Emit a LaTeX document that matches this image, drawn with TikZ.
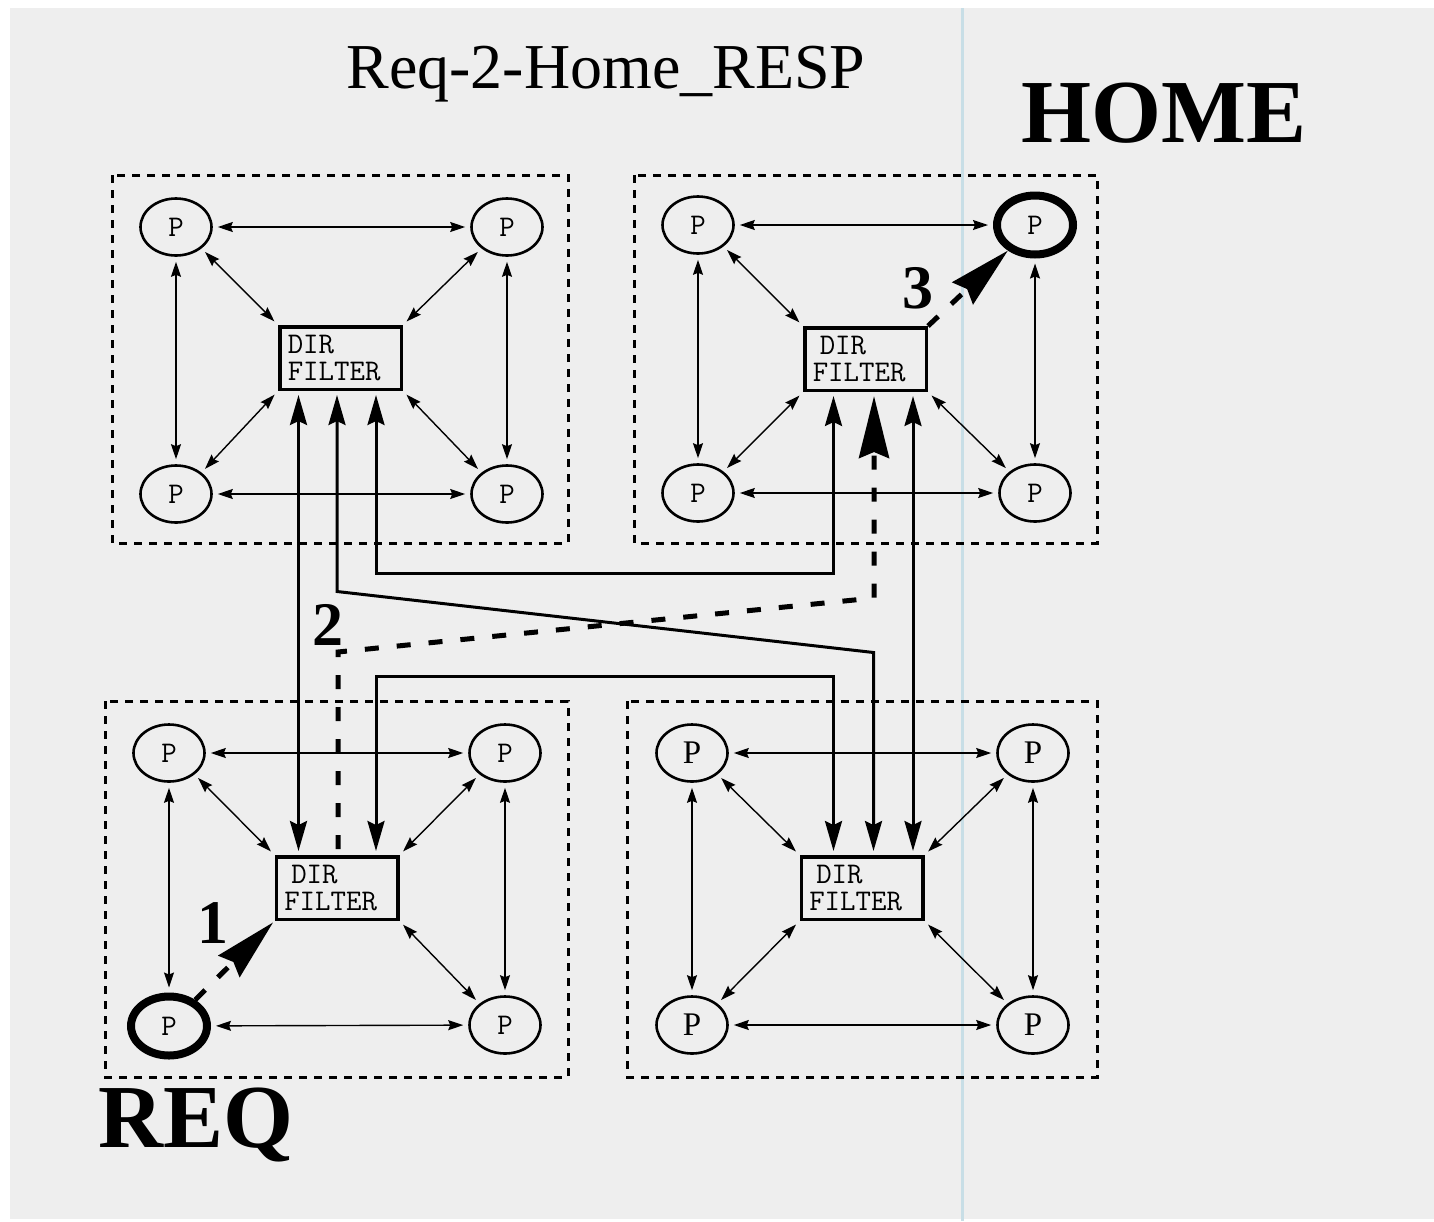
\documentclass[tikz,border=0pt]{standalone}
\usepackage{fontspec}
\newfontfamily\tms{Liberation Serif}
\usetikzlibrary{arrows.meta,shapes.geometric}
\definecolor{bg}{RGB}{238,238,238}
\definecolor{vline}{RGB}{200,222,230}
\begin{document}
\begin{tikzpicture}[x=0.5pt,y=-0.5pt,
  pn/.style={ellipse,draw,line width=1.3pt,minimum width=35.5pt,minimum height=28.5pt,inner sep=0pt,font=\ttfamily\fontsize{15}{15}\selectfont},
  pthick/.style={pn,line width=4pt,minimum width=38pt,minimum height=29.5pt},
  proman/.style={pn,font=\tms\fontsize{16.5}{16.5}\selectfont},
  filt/.style={draw,line width=1.75pt,inner xsep=4pt,inner ysep=0pt,text width=52.75pt,minimum height=31.25pt,align=left,font=\ttfamily\fontsize{15}{13.5}\selectfont},
  grp/.style={draw,line width=1.5pt,dash pattern=on 4pt off 3.5pt},
  thinarr/.style={line width=0.7pt,{Stealth[length=7.5pt,width=5pt,inset=1pt]}-{Stealth[length=7.5pt,width=5pt,inset=1pt]},shorten <=2.5pt,shorten >=2.5pt},
  bus/.style={line width=1.5pt,{Stealth[length=15pt,width=8.5pt,inset=2pt]}-{Stealth[length=15pt,width=8.5pt,inset=2pt]},shorten <=2pt,shorten >=2pt},
  msg/.style={line width=2.5pt,dash pattern=on 7pt off 9pt,-{Stealth[length=31pt,width=15pt,inset=3pt]}},
  lbl/.style={font=\tms\bfseries\fontsize{31}{31}\selectfont,inner sep=0pt,anchor=base},
]
\useasboundingbox (0,0) rectangle (1434,1221);
\fill[white] (0,0) rectangle (1434,1221);
\fill[bg] (10,8) rectangle (1434,1219);
\draw[vline,line width=1.5pt] (962,8) -- (962,1221);

% group frames
\draw[grp] (112,175) rectangle (568,543);
\draw[grp] (634,175) rectangle (1097,543);
\draw[grp] (105,701) rectangle (568,1077);
\draw[grp] (627,701) rectangle (1097,1077);

% top-left group
\node[pn] (a1) at (176,227) {P};
\node[pn] (a2) at (507,227) {P};
\node[pn] (a3) at (176,494) {P};
\node[pn] (a4) at (507,494) {P};
\node[filt] (fa) at (340.5,358) {DIR\\FILTER};

% top-right group (HOME)
\node[pn] (b1) at (698,225) {P};
\node[pthick] (b2) at (1035,225) {P};
\node[pn] (b3) at (698,493) {P};
\node[pn] (b4) at (1035,493) {P};
\node[filt] (fb) at (865.5,359) {\hspace*{3.5pt}DIR\\FILTER};

% bottom-left group (REQ)
\node[pn] (c1) at (169,753) {P};
\node[pn] (c2) at (505,753) {P};
\node[pthick] (c3) at (169,1026) {P};
\node[pn] (c4) at (505,1025) {P};
\node[filt] (fc) at (337,888) {\hspace*{3.5pt}DIR\\FILTER};

% bottom-right group
\node[proman] (d1) at (692,753) {P};
\node[proman] (d2) at (1033,753) {P};
\node[proman] (d3) at (692,1025) {P};
\node[proman] (d4) at (1033,1025) {P};
\node[filt] (fd) at (862,888) {\hspace*{3.5pt}DIR\\FILTER};

% thin arrows
\draw[thinarr] (a1) -- (a2);
\draw[thinarr] (a3) -- (a4);
\draw[thinarr] (a1) -- (a3);
\draw[thinarr] (a2) -- (a4);
\draw[thinarr] (a1.-40) -- (fa.north west);
\draw[thinarr] (a2.-140) -- (fa.north east);
\draw[thinarr] (a3.40) -- (fa.south west);
\draw[thinarr] (a4.140) -- (fa.south east);

\draw[thinarr] (b1) -- (b2);
\draw[thinarr] (b3) -- (b4);
\draw[thinarr] (b1) -- (b3);
\draw[thinarr] (b2) -- (b4);
\draw[thinarr] (b1.-40) -- (fb.north west);
\draw[thinarr] (b3.40) -- (fb.south west);
\draw[thinarr] (b4.140) -- (fb.south east);

\draw[thinarr] (c1) -- (c2);
\draw[thinarr] (c3) -- (c4);
\draw[thinarr] (c1) -- (c3);
\draw[thinarr] (c2) -- (c4);
\draw[thinarr] (c1.-40) -- (fc.north west);
\draw[thinarr] (c2.-140) -- (fc.north east);
\draw[thinarr] (c4.140) -- (fc.south east);

\draw[thinarr] (d1) -- (d2);
\draw[thinarr] (d3) -- (d4);
\draw[thinarr] (d1) -- (d3);
\draw[thinarr] (d2) -- (d4);
\draw[thinarr] (d1.-40) -- (fd.north west);
\draw[thinarr] (d2.-140) -- (fd.north east);
\draw[thinarr] (d3.40) -- (fd.south west);
\draw[thinarr] (d4.140) -- (fd.south east);

% bus coordinates
\coordinate (xA) at (298.5,0);
\coordinate (xB) at (337,0);
\coordinate (xC) at (376,0);
\coordinate (xD) at (833.5,0);
\coordinate (xE) at (873.5,0);
\coordinate (xF) at (913,0);
\coordinate (xG) at (338,0);
\coordinate (xH) at (874,0);
\coordinate (yA) at (0,573.5);
\coordinate (yB) at (0,591.5);
\coordinate (yB2) at (0,652.5);
\coordinate (yC) at (0,676.5);
\coordinate (yD) at (0,652);
\coordinate (yD2) at (0,598);

\draw[bus] (fa.south -| xA) -- (fc.north -| xA);
\draw[bus] (fa.south -| xC) -- (xC |- yA) -- (xD |- yA) -- (fb.south -| xD);
\draw[bus] (fa.south -| xB) -- (xB |- yB) -- (xE |- yB2) -- (fd.north -| xE);
\draw[bus] (fc.north -| xC) -- (xC |- yC) -- (xD |- yC) -- (fd.north -| xD);
\draw[bus] (fb.south -| xF) -- (fd.north -| xF);

% message path
\draw[msg,shorten <=3pt,shorten >=2pt] (fc.north -| xG) -- (xG |- yD) -- (xH |- yD2) -- (fb.south -| xH);
\draw[msg,shorten >=1pt] (c3) -- (fc.south west);
\draw[msg] (fb.north east) -- (b2);

% labels
\node[lbl] (n1) at (213,943) {1};
\node[lbl] (n2) at (328,645) {2};
\node[lbl] (n3) at (918,308) {3};
\node[font=\tms\fontsize{32}{32}\selectfont,anchor=base,inner sep=0pt] (title) at (606,88) {Req-2-Home\_RESP};
\node[font=\tms\bfseries\fontsize{45}{45}\selectfont,anchor=base,inner sep=0pt] (home) at (1164,142) {HOME};
\node[font=\tms\bfseries\fontsize{45}{45}\selectfont,anchor=base west,inner sep=0pt] (req) at (98,1147) {REQ};
\end{tikzpicture}
\end{document}
